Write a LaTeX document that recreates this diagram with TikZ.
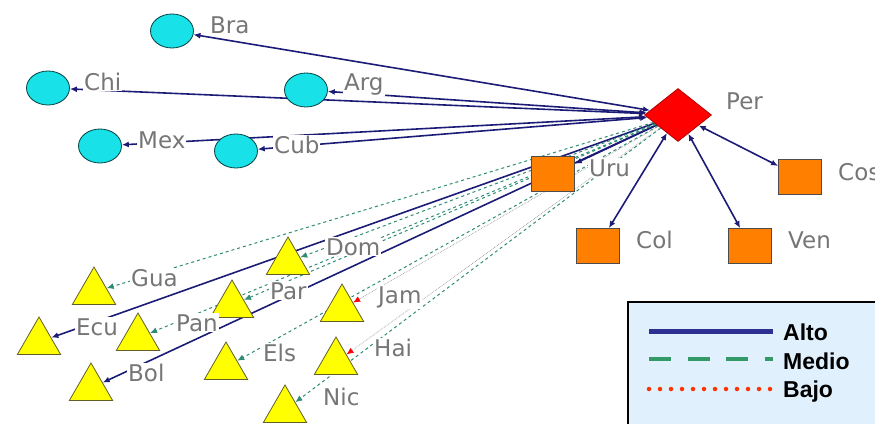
\documentclass[tikz,border=0pt]{standalone}
\usepackage{fontspec}
\usepackage{tikz}
\usetikzlibrary{shapes.geometric,arrows.meta,backgrounds}
\newfontfamily\lblfont{DejaVu Sans}
\newfontfamily\keyfont{Liberation Sans}
\definecolor{altoblue}{RGB}{28,28,118}
\definecolor{keyblue}{RGB}{46,49,146}
\definecolor{medioteal}{RGB}{45,140,115}
\definecolor{keygreen}{RGB}{51,153,102}
\definecolor{bajored}{RGB}{255,51,0}
\definecolor{cityblue}{RGB}{25,225,232}
\definecolor{boxorange}{RGB}{255,128,0}
\definecolor{triyellow}{RGB}{255,255,0}
\definecolor{lblgray}{RGB}{118,118,118}
\definecolor{keyfill}{RGB}{224,240,252}

\begin{document}
\begin{tikzpicture}[x=1pt, y=-1pt, >={Latex[length=7pt,width=6pt]},
  circ/.style={ellipse, draw=teal!50!black, line width=0.8pt, fill=cityblue, minimum width=43pt, minimum height=34pt, inner sep=0pt},
  sq/.style={rectangle, draw=black!70, line width=0.8pt, fill=boxorange, minimum width=43pt, minimum height=35pt, inner sep=0pt},
  tri/.style={regular polygon, regular polygon sides=3, draw=olive!60!black, line width=0.8pt, fill=triyellow, minimum size=50pt, inner sep=0pt},
  lbl/.style={anchor=base west, text=lblgray, font=\lblfont\fontsize{23}{27}\selectfont, fill=white, inner sep=1pt},
  alto/.style={draw=altoblue, line width=1.6pt},
  medio/.style={draw=medioteal, line width=1pt, dashed},
  bajo/.style={draw=gray!80, line width=0.7pt, densely dotted, -{Latex[length=7pt,width=6pt,red]}},
  keytext/.style={anchor=base west, font=\keyfont\bfseries\fontsize{23}{26}\selectfont, inner sep=0pt}]
\useasboundingbox (0,0) rectangle (875,423);
\clip (0,0) rectangle (875,423);

% centre
\node [diamond, draw=red!70!black, line width=0.8pt, fill=red, minimum width=67pt, minimum height=53pt, inner sep=0pt] (per) at (678,115) {};

% circles
\node [circ] (bra) at (172,31) {};
\node [circ] (chi) at (48,88) {};
\node [circ] (arg) at (306,90) {};
\node [circ] (mex) at (100,146) {};
\node [circ] (cub) at (236,151) {};

% squares
\node [sq] (uru) at (553,174) {};
\node [sq] (col) at (598,246) {};
\node [sq] (ven) at (750,246) {};
\node [sq] (cos) at (800,177) {};

% triangles
\node [tri] (gua) at (94,292) {};
\node [tri] (ecu) at (39,342) {};
\node [tri] (pan) at (138,338) {};
\node [tri] (bol) at (91,388) {};
\node [tri] (dom) at (288,262) {};
\node [tri] (par) at (232,305) {};
\node [tri] (els) at (226,367) {};
\node [tri] (jam) at (342,309) {};
\node [tri] (hai) at (336,362) {};
\node [tri] (nic) at (285,410) {};

\begin{pgfonlayer}{background}
\draw [alto, <->] (per) -- (bra);
\draw [alto, <->] (per) -- (chi);
\draw [alto, <->] (per) -- (arg);
\draw [alto, <->] (per) -- (mex);
\draw [alto, <->] (per) -- (cub);
\draw [alto, ->] (per) -- (uru);
\draw [alto, <->] (per) -- (col);
\draw [alto, <->] (per) -- (ven);
\draw [alto, <->] (per) -- (cos);
\draw [alto, ->] (per) -- (ecu);
\draw [alto, ->] (per) -- (bol);
\draw [medio, ->] (per) -- (gua);
\draw [medio, ->] (per) -- (pan);
\draw [medio, ->] (per) -- (dom);
\draw [medio, ->] (per) -- (par);
\draw [medio, ->] (per) -- (els);
\draw [medio, ->] (per) -- (nic);
\draw [bajo] (per) -- (jam);
\draw [bajo] (per) -- (hai);
\end{pgfonlayer}

% labels
\node [lbl] (perL) at (725,109) {Per};
\node [lbl] (braL) at (209,33) {Bra};
\node [lbl] (chiL) at (83,90) {Chi};
\node [lbl] (argL) at (343,90) {Arg};
\node [lbl] (mexL) at (137,148) {Mex};
\node [lbl] (cubL) at (273,153) {Cub};
\node [lbl] (uruL) at (588,176) {Uru};
\node [lbl] (colL) at (635,248) {Col};
\node [lbl] (venL) at (787,248) {Ven};
\node [lbl] (cosL) at (837,180) {Cos};
\node [lbl] (guaL) at (130,286) {Gua};
\node [lbl] (ecuL) at (75,335) {Ecu};
\node [lbl] (panL) at (175,331) {Pan};
\node [lbl] (bolL) at (127,381) {Bol};
\node [lbl] (domL) at (325,255) {Dom};
\node [lbl] (parL) at (269,299) {Par};
\node [lbl] (elsL) at (262,361) {Els};
\node [lbl] (jamL) at (377,303) {Jam};
\node [lbl] (haiL) at (373,356) {Hai};
\node [lbl] (nicL) at (322,405) {Nic};

% legend
\draw [line width=1.5pt, fill=keyfill] (628,302) rectangle (890,440);
\draw [keyblue, line width=5pt] (649,331) -- (773,331);
\draw [keygreen, line width=4.5pt, dash pattern=on 22pt off 16.5pt] (649,359) -- (773,359);
\draw [bajored, line width=4.5pt, line cap=round, dash pattern=on 0pt off 11pt] (649,389) -- (773,389);
\node [keytext] (alto) at (783,340) {Alto};
\node [keytext] (medio) at (783,369) {Medio};
\node [keytext] (bajo) at (783,397) {Bajo};
\end{tikzpicture}
\end{document}
